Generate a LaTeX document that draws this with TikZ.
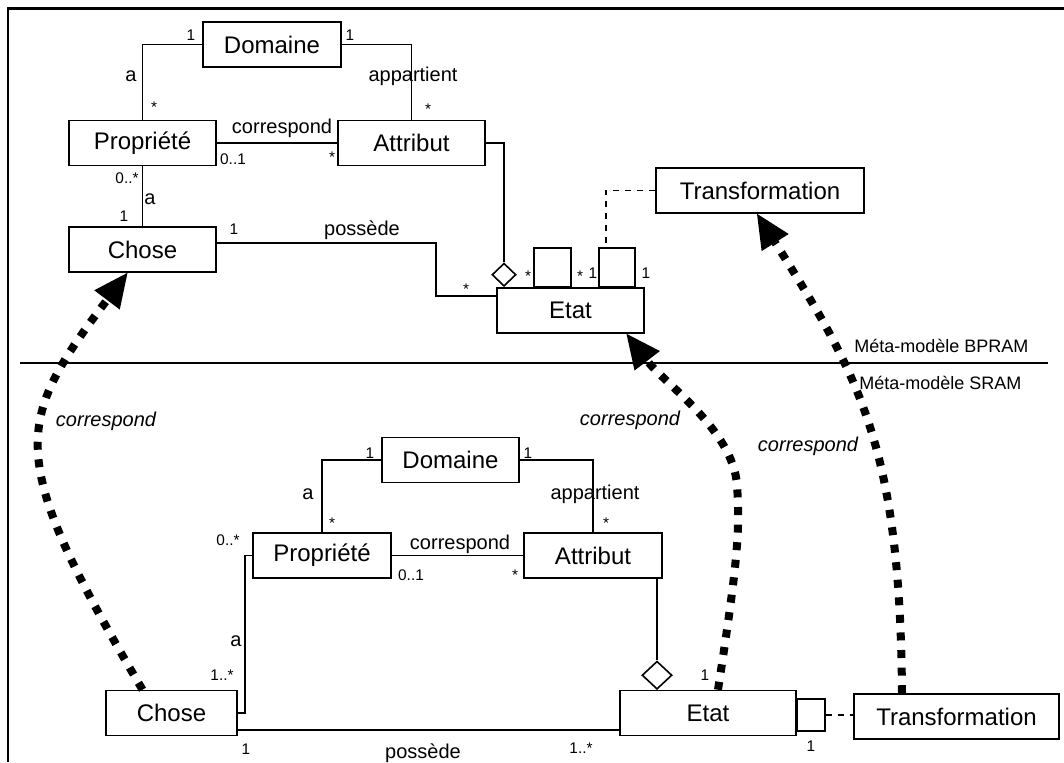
\documentclass[tikz,border=0pt]{standalone}
\usepackage{fontspec}
\setmainfont{Liberation Sans}
\usetikzlibrary{arrows.meta,shapes.geometric}

\tikzset{
  classe/.style={draw, line width=0.8pt, fill=white, inner sep=0pt, minimum height=22.5pt,
    font=\fontsize{12}{14}\selectfont},
  qualif/.style={draw, line width=0.8pt, fill=white, inner sep=0pt},
  agreg/.style={draw, diamond, line width=0.8pt, fill=white, inner sep=0pt},
  assoc/.style={line width=0.6pt},
  role/.style={inner sep=0pt, text height=7pt, text depth=2pt, font=\fontsize{10}{12}\selectfont},
  mult/.style={inner sep=0pt, text height=5.5pt, text depth=0pt, font=\fontsize{7.7}{9}\selectfont},
  meta/.style={inner sep=0pt, anchor=west, font=\fontsize{9}{11}\selectfont},
  lien/.style={inner sep=0pt, text height=7pt, text depth=2pt, font=\fontsize{10}{12}\selectfont\itshape},
  corresp/.style={line width=4pt, dash pattern=on 4pt off 4.8pt,
    -{Triangle[length=17pt,width=16pt,line width=0pt]}},
}

\begin{document}
\begin{tikzpicture}[x=0.5pt,y=-0.5pt]

\useasboundingbox (0,0) rectangle (1064,762);

% cadre

\draw[line width=1.5pt] (7,8.5) -- (1064,8.5) ;
\draw[line width=1pt] (7.5,8) -- (7.5,762) ;

% meta-modele BPRAM (haut)

\node[classe, minimum width=69pt] (domH) at (272,44.5) {Domaine} ;
\node[classe, minimum width=73.5pt] (propH) at (142.5,143) {Propriété} ;
\node[classe, minimum width=73.5pt] (attrH) at (411.5,143) {Attribut} ;
\node[classe, minimum width=73.5pt] (choseH) at (142.5,249.5) {Chose} ;
\node[classe, minimum width=73.5pt] (etatH) at (570.5,310.5) {Etat} ;
\node[classe, minimum width=104pt] (transH) at (760,190.5) {Transformation} ;
\node[qualif, minimum width=18.5pt, minimum height=19.5pt, anchor=south] (q1H) at (552.5,288) {} ;
\node[qualif, minimum width=18pt, minimum height=19.5pt, anchor=south] (q2H) at (617,288) {} ;
\node[agreg, minimum width=12pt, minimum height=11.5pt, anchor=south] (agrH) at (504,287) {} ;

\coordinate (possH) at (436,296) ;
\coordinate (transQ) at (606,249) ;

\draw[assoc] (domH.west) -| (propH.north) ;
\draw[assoc] (domH.east) -| (attrH.north) ;
\draw[assoc] (propH.east) -- (attrH.west) ;
\draw[assoc] (propH.south) -- (choseH.north) ;
\draw[assoc] (choseH.5) -| (possH) -- (possH -| etatH.west) ;
\draw[assoc] (attrH.east) -| (agrH.north) ;
\draw[assoc] [dashed] (transH.west) -| (transQ) ;

\node[mult] (m1) at (191,35) {1} ;
\node[role] (r1) at (131,76) {a} ;
\node[mult] (m2) at (154,107) {*} ;
\node[mult] (m3) at (350,35) {1} ;
\node[role] (r2) at (413,76) {appartient} ;
\node[mult] (m4) at (428,109) {*} ;
\node[role] (r3) at (282,128) {correspond} ;
\node[mult] (m5) at (233,159) {0..1} ;
\node[mult] (m6) at (332,157) {*} ;
\node[mult] (m7) at (127,178) {0..*} ;
\node[role] (r4) at (150,199) {a} ;
\node[mult] (m8) at (124,216) {1} ;
\node[mult] (m9) at (234,229) {1} ;
\node[role] (r5) at (362,230) {possède} ;
\node[mult] (m10) at (466,289) {*} ;
\node[mult] (m11) at (528,276) {*} ;
\node[mult] (m12) at (580,276) {*} ;
\node[mult] (m13) at (593,273) {1} ;
\node[mult] (m14) at (646,273) {1} ;

% separation

\draw[assoc] (20,363) -- (1048,363) ;
\node[meta] (bpram) at (854,346) {Méta-modèle BPRAM} ;
\node[meta] (sram) at (859,383) {Méta-modèle SRAM} ;

% meta-modele SRAM (bas)

\node[classe, minimum width=68.5pt] (domB) at (450.5,460) {Domaine} ;
\node[classe, minimum width=69pt] (propB) at (322,555.5) {Propriété} ;
\node[classe, minimum width=69pt] (attrB) at (593,555.5) {Attribut} ;
\node[classe, minimum width=65.5pt] (choseB) at (171.5,713) {Chose} ;
\node[classe, minimum width=88pt] (etatB) at (708,713) {Etat} ;
\node[qualif, minimum width=14pt, minimum height=16pt, anchor=west] (qB) at (796,715) {} ;
\node[classe, minimum width=102.5pt] (transB) at (956.5,716.5) {Transformation} ;
\node[agreg, minimum width=15pt, minimum height=14pt, anchor=south] (agrB) at (657,690) {} ;

\coordinate (aB) at (245,713) ;
\coordinate (possB) at (0,730) ;

\draw[assoc] (domB.west) -| (propB.north) ;
\draw[assoc] (domB.east) -| (attrB.north) ;
\draw[assoc] (propB.east) -- (attrB.west) ;
\draw[assoc] (propB.west) -| (aB) -- (choseB.east) ;
\draw[assoc] (choseB.east |- possB) -- (etatB.west |- possB) ;
\draw[assoc] (attrB.south -| agrB.north) -- (agrB.north) ;
\draw[assoc] [dashed] (qB.east) -- (qB.east -| transB.west) ;

\node[mult] (n1) at (370,453) {1} ;
\node[role] (s1) at (308,494) {a} ;
\node[mult] (n2) at (332,523) {*} ;
\node[mult] (n3) at (528,453) {1} ;
\node[role] (s2) at (595,494) {appartient} ;
\node[mult] (n4) at (606,523) {*} ;
\node[role] (s3) at (460,544) {correspond} ;
\node[mult] (n5) at (411,575) {0..1} ;
\node[mult] (n6) at (515,575) {*} ;
\node[mult] (n7) at (228,540) {0..*} ;
\node[role] (s4) at (236,641) {a} ;
\node[mult] (n8) at (222,675) {1..*} ;
\node[mult] (n9) at (246,749) {1} ;
\node[role] (s5) at (423,753) {possède} ;
\node[mult] (n10) at (581,748) {1..*} ;
\node[mult] (n11) at (705,675) {1} ;
\node[mult] (n12) at (811,746) {1} ;

% correspondances

\draw[corresp] ([xshift=-14.5pt]choseB.north) .. controls (4,455) and (14,423) .. ([xshift=-7.5pt]choseH.south) ;
\draw[corresp] ([xshift=5pt]etatB.north) .. controls (738,560) and (740,530) .. (737,485)
  .. controls (733,430) and (665,384) .. ([xshift=28pt]etatH.south) ;
\draw[corresp] ([xshift=-27.25pt]transB.north) .. controls (900,450) and (862,380) .. ([xshift=-1.5pt]transH.south) ;

\node[lien] (c1) at (106,421) {correspond} ;
\node[lien] (c2) at (630,420) {correspond} ;
\node[lien] (c3) at (808,446) {correspond} ;

\end{tikzpicture}
\end{document}
